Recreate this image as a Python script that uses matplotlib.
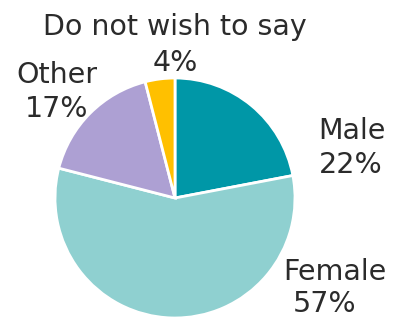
import matplotlib.pyplot as plt

labels = ["Male", "Female", "Other", "Do not wish to say"]
shares = [22, 57, 17, 4]
colors = ["#0097A7", "#8FD0D0", "#ADA0D3", "#FFC000"]

# label line / percent line centres in pixels (x, y from top)
name_pos = [(352, 131), (335, 272), (57, 75), (175, 27)]
pct_pos = [(351, 165), (325, 304), (57, 109), (175, 63)]

W, H = 394, 320
fig = plt.figure(figsize=(W / 100, H / 100), dpi=100)
ax = fig.add_axes([0, 0, 1, 1])

ax.pie(shares, colors=colors, startangle=90, counterclock=False,
       center=(175, H - 198), radius=120,
       wedgeprops=dict(edgecolor="white", linewidth=2))

ax.set_xlim(0, W)
ax.set_ylim(0, H)
ax.set_aspect("equal")
ax.axis("off")

style = dict(ha="center", va="center", fontsize=20.5, color="#2b2b2b",
             family="DejaVu Sans")
for lab, val, (x1, y1), (x2, y2) in zip(labels, shares, name_pos, pct_pos):
    ax.text(x1, H - y1, lab, **style)
    ax.text(x2, H - y2, "{}%".format(val), **style)

fig.savefig("out.png", dpi=100)
